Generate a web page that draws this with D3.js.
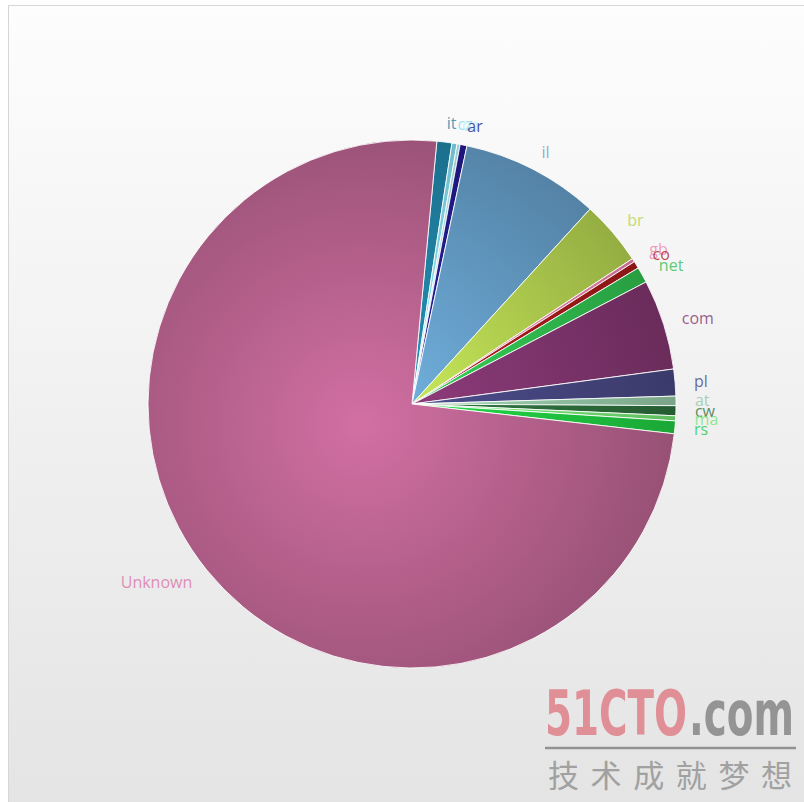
<!DOCTYPE html>
<html>
<head>
<meta charset="utf-8">
<script src="https://cdn.jsdelivr.net/npm/d3@7/dist/d3.min.js"></script>
<style>
  html, body { margin: 0; padding: 0; background: #ffffff; }
  svg { display: block; }
</style>
</head>
<body>
<div id="chart"></div>
<script>
// Chart size
const W = 804, H = 802;

// Pie data: share per domain (%), clockwise from the top
const domains = ["it", "cz", "ca", "ar", "il", "br", "gb", "co", "net", "com", "pl", "at", "cw", "ma", "rs", "Unknown"];
const shares  = [0.92, 0.31, 0.19, 0.42, 8.44, 3.94, 0.22, 0.44, 0.97, 5.53, 1.64, 0.58, 0.61, 0.31, 0.78, 74.69];
const sliceColors = ["#1f7fa0", "#7fd3e8", "#b0e8f4", "#221a8a", "#6198c0", "#aecb4e", "#e77fa7", "#a11a1a",
                     "#2fb84c", "#7c346b", "#44447c", "#8fbfa0", "#2b6b3a", "#6fdc6f", "#1fc23f", "#b05e88"];

// Geometry
const cx = 412, cy = 404, R = 264, labelR = 283;
const startDeg = 5.4;

const svg = d3.select("#chart").append("svg")
  .attr("width", W).attr("height", H);

const defs = svg.append("defs");

// Panel background
const bg = defs.append("linearGradient").attr("id", "bg")
  .attr("x1", 0).attr("y1", 0).attr("x2", 0).attr("y2", 1);
bg.append("stop").attr("offset", 0).attr("stop-color", "#fdfdfd");
bg.append("stop").attr("offset", 1).attr("stop-color", "#e4e4e4");

svg.append("rect")
  .attr("x", 8.5).attr("y", 5.5)
  .attr("width", W).attr("height", H)
  .attr("fill", "url(#bg)")
  .attr("stroke", "#d6d6d6");

// One radial gradient per slice: light near the center, darker at the rim
// (coordinates are relative to the pie center, since the paths live in a translated group)
sliceColors.forEach((c, i) => {
  const g = defs.append("radialGradient").attr("id", "sg" + i)
    .attr("gradientUnits", "userSpaceOnUse")
    .attr("cx", -50).attr("cy", 20).attr("r", 320);
  g.append("stop").attr("offset", 0).attr("stop-color", d3.color(c).brighter(0.5).formatHex());
  g.append("stop").attr("offset", 1).attr("stop-color", d3.color(c).darker(0.45).formatHex());
});

const toRad = d => d * Math.PI / 180;

const pie = d3.pie()
  .sort(null)
  .value(d => d.v)
  .startAngle(toRad(startDeg))
  .endAngle(toRad(startDeg) + 2 * Math.PI);

const data = domains.map((name, i) => ({ name, v: shares[i], i }));
const arcs = pie(data);

const arc = d3.arc().innerRadius(0).outerRadius(R);

const gPie = svg.append("g").attr("transform", `translate(${cx},${cy})`);

gPie.selectAll("path.slice")
  .data(arcs)
  .join("path")
  .attr("class", "slice")
  .attr("d", arc)
  .attr("fill", d => `url(#sg${d.data.i})`)
  .attr("stroke", "#ffffff")
  .attr("stroke-opacity", 0.85)
  .attr("stroke-width", 1)
  .attr("stroke-linejoin", "round");

// Data labels, coloured like their slices
gPie.selectAll("text.lbl")
  .data(arcs)
  .join("text")
  .attr("class", "lbl")
  .each(function(d) {
    const a = (d.startAngle + d.endAngle) / 2;
    const x = labelR * Math.sin(a);
    const y = -labelR * Math.cos(a);
    d3.select(this)
      .attr("x", x).attr("y", y)
      .attr("dy", "0.35em")
      .attr("text-anchor", Math.sin(a) >= 0 ? "start" : "end");
  })
  .attr("fill", d => d3.color(sliceColors[d.data.i]).brighter(d.data.name === "Unknown" ? 0.6 : 0.1).formatHex())
  .attr("fill-opacity", 0.8)
  .style("font-family", "'Open Sans', 'DejaVu Sans', sans-serif")
  .style("font-size", "16px")
  .text(d => d.data.name);

// Watermark
const wm = svg.append("g").attr("opacity", 0.9);
wm.append("text")
  .attr("x", 545).attr("y", 735)
  .attr("textLength", 142).attr("lengthAdjust", "spacingAndGlyphs")
  .attr("fill", "#e0868e")
  .style("font-family", "'Liberation Sans Narrow', 'DejaVu Sans Condensed', sans-serif")
  .style("font-weight", "bold")
  .style("font-size", "62px")
  .text("51CTO");
wm.append("text")
  .attr("x", 689).attr("y", 735)
  .attr("textLength", 105).attr("lengthAdjust", "spacingAndGlyphs")
  .attr("fill", "#8c8c8c")
  .style("font-family", "'Liberation Sans Narrow', 'DejaVu Sans Condensed', sans-serif")
  .style("font-weight", "bold")
  .style("font-size", "62px")
  .text(".com");
wm.append("line")
  .attr("x1", 545).attr("x2", 796)
  .attr("y1", 748).attr("y2", 748)
  .attr("stroke", "#8a8a8a").attr("stroke-width", 2.5);
wm.append("text")
  .attr("x", 548).attr("y", 787)
  .attr("textLength", 244).attr("lengthAdjust", "spacing")
  .attr("fill", "#9a9a9a")
  .style("font-family", "'Noto Sans CJK SC', sans-serif")
  .style("font-size", "31px")
  .text("技术成就梦想");
</script>
</body>
</html>
